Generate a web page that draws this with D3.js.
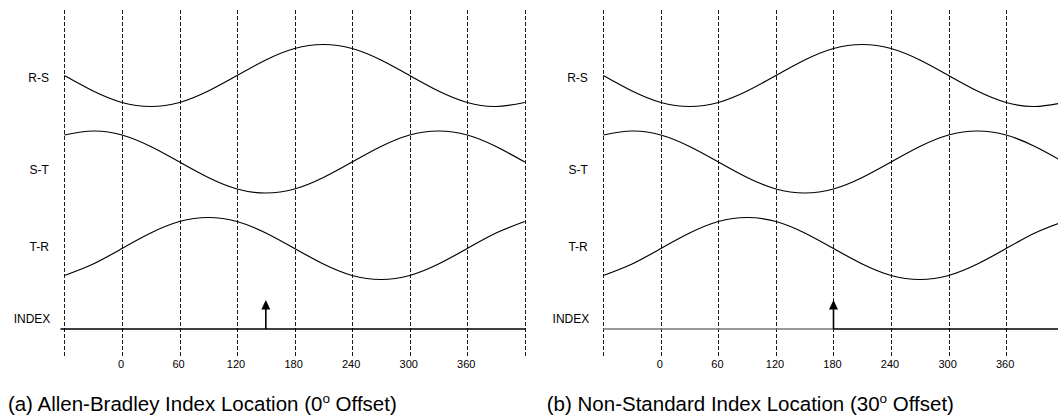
<!DOCTYPE html>
<html>
<head>
<meta charset="utf-8">
<script src="https://cdn.jsdelivr.net/npm/d3@7"></script>
<style>
  body { margin: 0; background: #fff; }
  svg { display: block; }
  text { font-family: Arial, "Liberation Sans", sans-serif; fill: #000; }
</style>
</head>
<body>
<svg id="chart" width="1058" height="419"></svg>
<script>
// Electrical angle (degrees) of each sample point
const angles = [-60, -30, 0, 30, 60, 90, 120, 150, 180, 210, 240, 270, 300, 330, 360, 390, 420];

// Normalised line-to-line feedback voltages at those angles
const rsValues = [0, -0.5, -0.87, -1, -0.87, -0.5, 0, 0.5, 0.87, 1, 0.87, 0.5, 0, -0.5, -0.87, -1, -0.87];
const stValues = [0.87, 1, 0.87, 0.5, 0, -0.5, -0.87, -1, -0.87, -0.5, 0, 0.5, 0.87, 1, 0.87, 0.5, 0];
const trValues = [-0.87, -0.5, 0, 0.5, 0.87, 1, 0.87, 0.5, 0, -0.5, -0.87, -1, -0.87, -0.5, 0, 0.5, 0.87];

const signalNames = ["R-S", "S-T", "T-R"];
const signalSeries = [rsValues, stValues, trValues];
const indexLabel = "INDEX";

const gridAngles = [-60, 0, 60, 120, 180, 240, 300, 360, 420];
const tickAngles = [0, 60, 120, 180, 240, 300, 360];

// Index pulse angle for each panel
const indexAngles = [150, 180];
const titlePrefixes = ["(a) Allen-Bradley Index Location (0", "(b) Non-Standard Index Location (30"];
const titleSup = "o";
const titleSuffix = " Offset)";

const svg = d3.select("#chart");

const panelLeft = [64.4, 603.3];
const degPx = 57.55 / 60;

const rowY = d3.scalePoint().domain(signalNames).range([75.5, 248.5]);
const amp = d3.scaleLinear().domain([-1, 1]).range([31, -31]);
const labelShift = { "R-S": 2.5, "S-T": 8, "T-R": -2 };
const indexY = 329;

panelLeft.forEach((left, p) => {
  const x = d3.scaleLinear().domain([-60, 420]).range([left, left + 480 * degPx]);
  const g = svg.append("g");

  // dashed phase grid
  g.selectAll("line.grid").data(gridAngles).join("line")
    .attr("class", "grid")
    .attr("x1", d => Math.round(x(d)) + 0.5).attr("x2", d => Math.round(x(d)) + 0.5)
    .attr("y1", 10).attr("y2", 357)
    .attr("stroke", "#1a1a1a").attr("stroke-width", 1)
    .attr("stroke-dasharray", "4,2");

  // waveforms
  signalNames.forEach((name, i) => {
    const vals = signalSeries[i];
    const pts = angles.map((a, k) => [a, vals[k]]);
    const line = d3.line()
      .x(d => x(d[0]))
      .y(d => rowY(name) + amp(d[1]))
      .curve(d3.curveNatural);
    g.append("path").datum(pts)
      .attr("d", line)
      .attr("fill", "none").attr("stroke", "#000").attr("stroke-width", 1.2);

    g.append("text")
      .attr("x", left - 15.5)
      .attr("y", rowY(name) + labelShift[name] + 4.3)
      .attr("text-anchor", "end")
      .attr("font-size", 12)
      .text(name);
  });

  // index channel
  g.append("text")
    .attr("x", left - 14)
    .attr("y", indexY - 6)
    .attr("text-anchor", "end")
    .attr("font-size", 12)
    .text(indexLabel);

  const ix = x(indexAngles[p]);
  const lineStart = p === 0 ? left - 4 : left;
  const lineEnd = p === 0 ? x(420) + 1 : 1058;
  if (p === 0) {
    g.append("line").attr("x1", lineStart).attr("x2", lineEnd)
      .attr("y1", indexY).attr("y2", indexY)
      .attr("stroke", "#000").attr("stroke-width", 1.3);
  } else {
    g.append("line").attr("x1", lineStart).attr("x2", ix)
      .attr("y1", indexY).attr("y2", indexY)
      .attr("stroke", "#777").attr("stroke-width", 1.5);
    g.append("line").attr("x1", ix).attr("x2", lineEnd)
      .attr("y1", indexY).attr("y2", indexY)
      .attr("stroke", "#000").attr("stroke-width", 1.3);
  }
  g.append("line").attr("x1", ix).attr("x2", ix)
    .attr("y1", indexY).attr("y2", 308)
    .attr("stroke", "#000").attr("stroke-width", 1.6);
  g.append("path")
    .attr("d", `M${ix},300 L${ix - 4.5},309.5 L${ix + 4.5},309.5 Z`)
    .attr("fill", "#000");

  // angle labels
  g.selectAll("text.tick").data(tickAngles).join("text")
    .attr("class", "tick")
    .attr("x", d => x(d) - 1)
    .attr("y", 368)
    .attr("text-anchor", "middle")
    .attr("font-size", 11)
    .text(d => d);

  // caption
  const t = g.append("text")
    .attr("x", left - 56.5)
    .attr("y", 411)
    .attr("font-size", 20.5);
  t.append("tspan").text(titlePrefixes[p]);
  t.append("tspan").attr("font-size", 13.5).attr("dy", -8).text(titleSup);
  t.append("tspan").attr("dy", 8).text(titleSuffix);
});
</script>
</body>
</html>
